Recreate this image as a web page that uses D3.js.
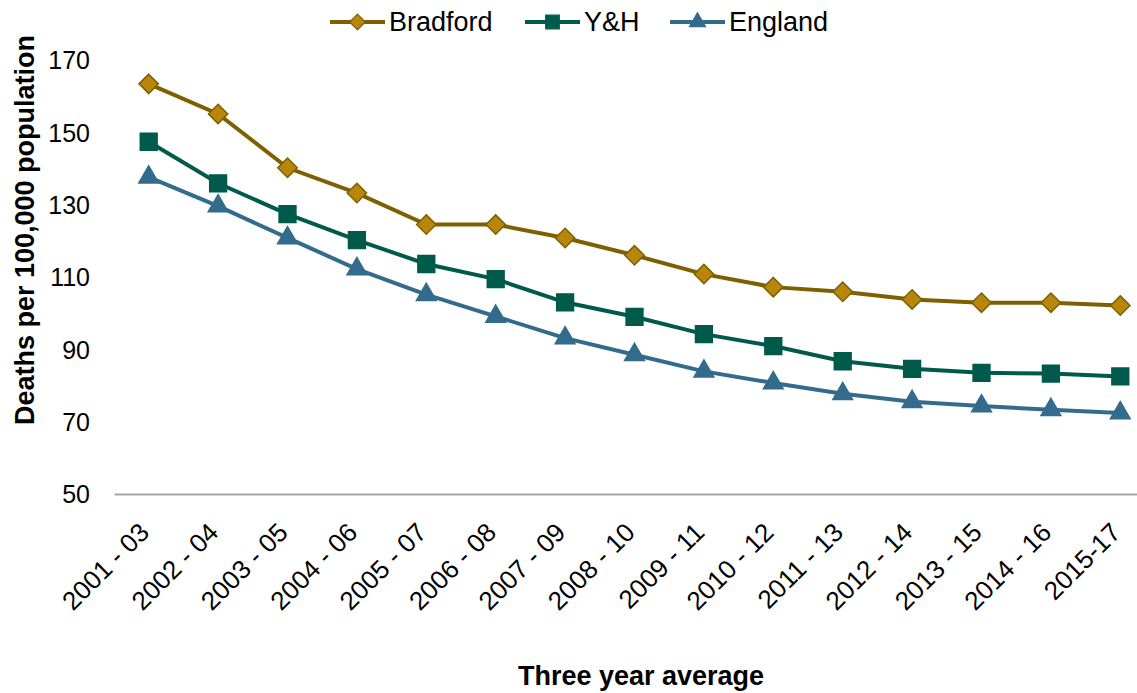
<!DOCTYPE html>
<html lang="en">
<head>
  <meta charset="UTF-8">
  <script src="https://cdn.jsdelivr.net/npm/d3@7"></script>
  <title>Deaths per 100,000 population</title>
  <style>
    body { margin: 0; background: #fff; }
    text { font-family: "Liberation Sans", Arial, sans-serif; fill: #000; }
  </style>
</head>
<body>
  <svg id="chart" width="1137" height="693"></svg>
  <script>
  // data
  let periods = ["2001 - 03","2002 - 04","2003 - 05","2004 - 06","2005 - 07","2006 - 08","2007 - 09",
    "2008 - 10","2009 - 11","2010 - 12","2011 - 13","2012 - 14","2013 - 15","2014 - 16","2015-17"]
  let bradford = [163.4,155.1,140.2,133.2,124.5,124.5,120.8,116.0,110.8,107.2,105.9,103.8,102.9,102.9,102.1]
  let yh = [147.4,135.9,127.4,120.2,113.6,109.4,103.0,99.0,94.2,90.9,86.7,84.6,83.5,83.3,82.5]
  let england = [137.6,129.6,120.8,112.2,105.1,99.1,93.1,88.5,83.9,80.7,77.7,75.5,74.3,73.3,72.4]
  let yTicks = [50,70,90,110,130,150,170]

  let series = [
    {name: "Bradford", values: bradford, line: "#7F6000", fill: "#B8860B", stroke: "#7F6000", symbol: d3.symbolDiamond2, size: 240},
    {name: "Y&H", values: yh, line: "#005A4B", fill: "#005A4B", stroke: "#005A4B", symbol: d3.symbolSquare2, size: 360},
    {name: "England", values: england, line: "#336B8C", fill: "#336B8C", stroke: "#336B8C", symbol: d3.symbolTriangle2, size: 280}
  ]

  let svg = d3.select("#chart")
  let plotLeft = 114, plotRight = 1155, plotTop = 60, plotBottom = 494

  /* SCALES */
  let scaleX = d3.scaleBand().domain(periods).range([plotLeft, plotRight])
  let scaleY = d3.scaleLinear().domain([50,170]).range([plotBottom, plotTop])
  let cx = d => scaleX(d) + scaleX.bandwidth() / 2

  /* AXES */
  let axisX = svg.append("g").attr("transform", "translate(0," + plotBottom + ")")
    .call(d3.axisBottom(scaleX).tickSize(0).tickPadding(0))
  axisX.select(".domain").attr("stroke", "#A6A6A6").attr("stroke-width", 2)
  axisX.selectAll("text")
    .style("font-size", "26px")
    .attr("text-anchor", "end")
    .attr("y", 0)
    .attr("dy", 0)
    .attr("transform", "translate(2,40) rotate(-45)")

  let axisY = svg.append("g").attr("transform", "translate(90,0)")
    .call(d3.axisLeft(scaleY).tickValues(yTicks).tickSize(0).tickPadding(0))
  axisY.select(".domain").remove()
  axisY.selectAll("text").style("font-size", "25px").attr("dy", "0.35em")

  // axis titles
  svg.append("text")
    .text("Deaths per 100,000 population")
    .attr("transform", "translate(34,230) rotate(-90)")
    .attr("text-anchor", "middle")
    .style("font-size", "27px").style("font-weight", "bold")

  svg.append("text")
    .text("Three year average")
    .attr("x", 641).attr("y", 685)
    .attr("text-anchor", "middle")
    .style("font-size", "27px").style("font-weight", "bold")

  /* LINES + MARKERS */
  let line = d3.line().x((d, i) => cx(periods[i])).y(d => scaleY(d))

  series.forEach(s => {
    let g = svg.append("g")
    g.append("path")
      .datum(s.values)
      .attr("d", line)
      .attr("fill", "none")
      .attr("stroke", s.line)
      .attr("stroke-width", 4)
    g.selectAll("path.marker")
      .data(s.values)
      .enter()
      .append("path")
      .attr("class", "marker")
      .attr("d", d3.symbol().type(s.symbol).size(s.size))
      .attr("transform", (d, i) => "translate(" + cx(periods[i]) + "," + scaleY(d) + ")")
      .attr("fill", s.fill)
      .attr("stroke", s.stroke)
      .attr("stroke-width", 1.5)
  })

  /* LEGEND */
  let legendX = [330, 525, 670]
  series.forEach((s, i) => {
    let lg = svg.append("g").attr("transform", "translate(" + legendX[i] + ",22)")
    lg.append("line").attr("x1", 0).attr("x2", 55).attr("y1", 0).attr("y2", 0)
      .attr("stroke", s.line).attr("stroke-width", 4)
    lg.append("path")
      .attr("d", d3.symbol().type(s.symbol).size(s.size * 0.65))
      .attr("transform", "translate(27.5,0)")
      .attr("fill", s.fill).attr("stroke", s.stroke).attr("stroke-width", 1.2)
    lg.append("text").text(s.name)
      .attr("x", 59).attr("dy", "0.35em")
      .style("font-size", "27px")
  })
  </script>
</body>
</html>
